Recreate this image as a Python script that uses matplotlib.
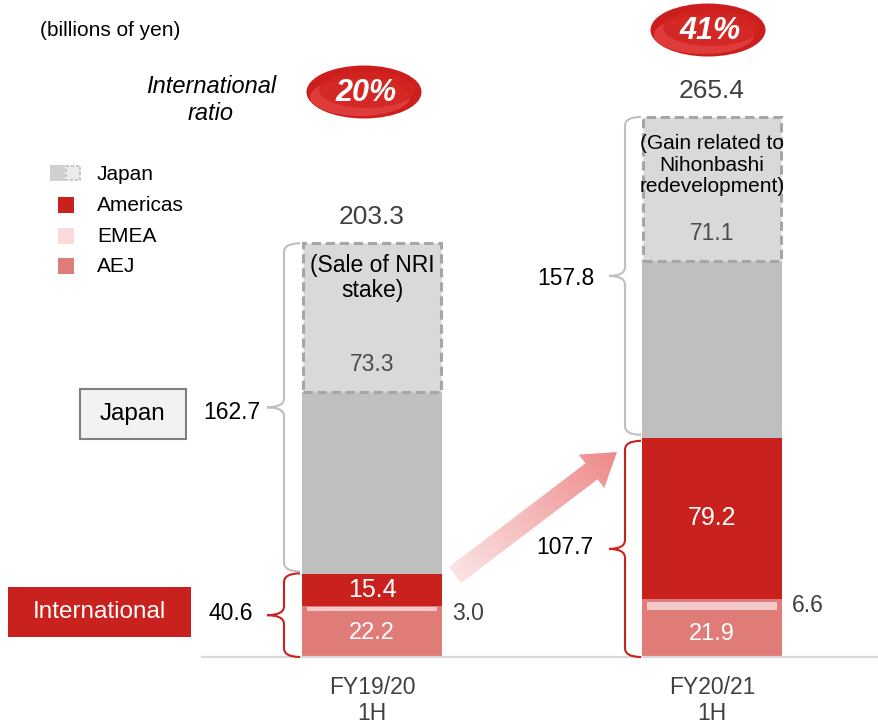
import numpy as np
import matplotlib
matplotlib.use("Agg")
import matplotlib.pyplot as plt
from matplotlib.patches import Rectangle, Ellipse, FancyArrow, PathPatch
from matplotlib.path import Path
from matplotlib.colors import LinearSegmentedColormap

plt.rcParams['font.family'] = ['Liberation Sans', 'DejaVu Sans']

# data (billions of yen)
periods = ["FY19/20\n1H", "FY20/21\n1H"]
aej = [22.2, 21.9]
emea = [3.0, 6.6]
americas = [15.4, 79.2]
japan = [162.7, 157.8]
japan_gain = [73.3, 71.1]
international = [40.6, 107.7]
totals = [203.3, 265.4]
intl_ratio = ["20%", "41%"]
gain_notes = ["(Sale of NRI\nstake)", "(Gain related to\nNihonbashi\nredevelopment)"]

RED = "#C9211E"
AEJ_C = "#E07C78"
EMEA_C = "#F4C9C9"
JP_C = "#BFBFBF"
JPG_C = "#D9D9D9"
TXT = "#404040"

W, H = 879, 725
BASE = 657          # pixel row of zero
S = 2.035           # pixels per billion yen
X0, DX = 372, 340   # pixel x of first bar, spacing

fig = plt.figure(figsize=(W / 100, H / 100), dpi=100)
ax = fig.add_axes([0, 0, 1, 1])
ax.set_xlim(-X0 / DX, (W - X0) / DX)
ax.set_ylim(-(H - BASE) / S, BASE / S)
ax.axis("off")

ov = fig.add_axes([0, 0, 1, 1], zorder=5)
ov.set_xlim(0, W)
ov.set_ylim(H, 0)
ov.axis("off")
ov.patch.set_alpha(0)


def px(i):
    return X0 + DX * i


def py(v):
    return BASE - v * S


x = np.arange(len(periods))
bw = 0.41
aej_a = np.array(aej)
emea_a = np.array(emea)
am_a = np.array(americas)
jp_a = np.array(japan)
jg_a = np.array(japan_gain)
intl_a = aej_a + emea_a + am_a

ax.bar(x, aej_a, bw, color=AEJ_C, zorder=2)
ax.bar(x, emea_a, bw, bottom=aej_a, color=AEJ_C, zorder=2)
ax.bar(x, emea_a * 0.6, bw * 0.93, bottom=aej_a + emea_a * 0.2, color=EMEA_C, zorder=3)
ax.bar(x, am_a, bw, bottom=aej_a + emea_a, color=RED, zorder=2)
ax.bar(x, jp_a - jg_a, bw, bottom=intl_a, color=JP_C, zorder=2)
ax.bar(x, jg_a, bw * 0.985, bottom=intl_a + jp_a - jg_a, color=JPG_C,
       edgecolor="#A6A6A6", linewidth=2.2, linestyle=(0, (3, 1.6)), zorder=3)
ax.plot([202 / DX - X0 / DX, (W - X0) / DX], [0, 0], color="#D9D9D9", lw=1.6, zorder=4)

# segment labels
for i in range(len(periods)):
    ov.text(px(i), py(aej[i] / 2) - 1, f"{aej[i]:.1f}", color="white", fontsize=17,
            ha="center", va="center")
    ov.text(px(i), py(aej[i] + emea[i] + americas[i] / 2), f"{americas[i]:.1f}",
            color="white", fontsize=18, ha="center", va="center")
    top_jp = intl_a[i] + japan[i]
    ov.text(px(i), py(totals[i]) - 26, f"{totals[i]:.1f}", color=TXT, fontsize=19,
            ha="center", va="center")
    ov.text(px(i), py(top_jp - japan_gain[i]) - 28, f"{japan_gain[i]:.1f}",
            color="#4D4D4D", fontsize=16.5, ha="center", va="center")
    p1, p2 = periods[i].split("\n")
    ov.text(px(i), 688, p1, color=TXT, fontsize=16.5, ha="center", va="center")
    ov.text(px(i), 713, p2, color=TXT, fontsize=16.5, ha="center", va="center")

ov.text(px(0), 278, gain_notes[0], color="black", fontsize=16.5, ha="center",
        va="center", linespacing=1.15)
ov.text(px(1), 165, gain_notes[1], color="black", fontsize=15, ha="center",
        va="center", linespacing=1.15)
ov.text(468, 613, f"{emea[0]:.1f}", color=TXT, fontsize=16.5, ha="center", va="center")
ov.text(808, 605, f"{emea[1]:.1f}", color=TXT, fontsize=16.5, ha="center", va="center")


def brace(xl, y0, y1, tip, xr, color):
    ym = (y0 + y1) / 2
    r = 9
    verts = [(xr, y0), (xl, y0), (xl, y0 + r),
             (xl, ym - r), (xl, ym), (tip, ym),
             (xl, ym), (xl, ym + r),
             (xl, y1 - r), (xl, y1), (xr, y1)]
    codes = [Path.MOVETO, Path.CURVE3, Path.CURVE3,
             Path.LINETO, Path.CURVE3, Path.CURVE3,
             Path.CURVE3, Path.CURVE3,
             Path.LINETO, Path.CURVE3, Path.CURVE3]
    ov.add_patch(PathPatch(Path(verts, codes), fill=False, edgecolor=color, lw=1.5))


brace(284, py(totals[0]), py(international[0]) - 3, 267, 300, "#BFBFBF")
brace(284, py(international[0]) - 1, BASE, 267, 300, RED)
brace(625, py(totals[1]), py(international[1]) - 3, 609, 641, "#BFBFBF")
brace(625, py(international[1]) + 3, BASE, 609, 641, RED)

ov.text(232, 412, f"{japan[0]:.1f}", fontsize=16.5, ha="center", va="center")
ov.text(231, 613, f"{international[0]:.1f}", fontsize=16.5, ha="center", va="center")
ov.text(566, 278, f"{japan[1]:.1f}", fontsize=16.5, ha="center", va="center")
ov.text(565, 548, f"{international[1]:.1f}", fontsize=16.5, ha="center", va="center")

# left side labels
ov.add_patch(Rectangle((80, 389), 106, 50, facecolor="#F2F2F2", edgecolor="#7F7F7F", lw=1.5))
ov.text(133, 414, "Japan", fontsize=17.5, ha="center", va="center")
ov.add_patch(Rectangle((8, 587), 183, 50, facecolor=RED, edgecolor="none"))
ov.text(99, 612, "International", fontsize=17.5, color="white", ha="center", va="center")

ov.text(40, 30, "(billions of yen)", fontsize=15, ha="left", va="center")
ov.text(211, 100, "International\nratio", fontsize=17, style="italic",
        ha="center", va="center", linespacing=1.2)

# ratio ovals
for (cx, cy), lab in zip([(364, 92), (708, 30)], intl_ratio):
    ov.add_patch(Ellipse((cx, cy), 115, 53, facecolor="#CC1F1D", edgecolor="none"))
    ov.add_patch(Ellipse((cx - 4, cy + 5), 100, 38, facecolor="#EE5552", edgecolor="none", alpha=0.55))
    ov.add_patch(Ellipse((cx + 3, cy - 2), 96, 36, facecolor="#D22522", edgecolor="none", alpha=0.85))
    ov.text(cx + 2, cy + 1, lab, fontsize=22, color="white", weight="bold",
            style="italic", ha="center", va="center")

# legend
ov.add_patch(Rectangle((50, 165), 15, 16, facecolor="#D0D0D0", edgecolor="none"))
ov.add_patch(Rectangle((66, 166), 14, 14, facecolor="#EBEBEB", edgecolor="#BDBDBD",
                       lw=1.2, linestyle=(0, (2, 1))))
ov.add_patch(Rectangle((58, 197), 16, 16, facecolor=RED, edgecolor="none"))
ov.add_patch(Rectangle((58, 228), 16, 16, facecolor="#F8DADA", edgecolor="none"))
ov.add_patch(Rectangle((58, 258), 16, 16, facecolor=AEJ_C, edgecolor="none"))
for lab, yy in zip(["Japan", "Americas", "EMEA", "AEJ"], [174, 205, 236, 266]):
    ov.text(97, yy, lab, fontsize=15, ha="left", va="center")

# gradient arrow
ax0, ay0, adx, ady = 455, 575, 162, -123
arrow = FancyArrow(ax0, ay0, adx, ady, width=20, head_width=42, head_length=32,
                   length_includes_head=True, facecolor="none", edgecolor="none")
ov.add_patch(arrow)
gx = np.linspace(440, 630, 200)
gy = np.linspace(440, 595, 160)
GX, GY = np.meshgrid(gx, gy)
t = ((GX - ax0) * adx + (GY - ay0) * ady) / (adx ** 2 + ady ** 2)
cmap = LinearSegmentedColormap.from_list("pk", ["#FBE3E3", "#EE8A8A"])
im = ov.imshow(np.clip(t, 0, 1), cmap=cmap, extent=(440, 630, 595, 440), origin="upper",
               aspect="auto", vmin=0, vmax=1, zorder=2)
im.set_clip_path(arrow)
ov.set_xlim(0, W)
ov.set_ylim(H, 0)

fig.savefig("out.png", dpi=100, facecolor="white")
